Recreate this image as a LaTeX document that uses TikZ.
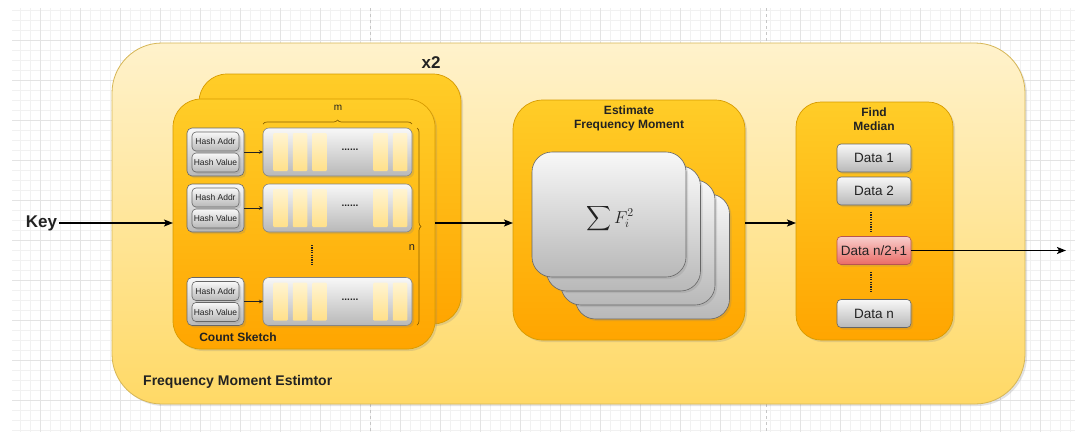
\documentclass[tikz,border=0pt]{standalone}
\usepackage{amsmath}
\usepackage[no-math]{fontspec}
\setmainfont{Liberation Sans}
\usetikzlibrary{arrows.meta,shadows,decorations.pathreplacing}
\definecolor{outerTop}{HTML}{FFF2CC}
\definecolor{outerBot}{HTML}{FFD966}
\definecolor{outerLine}{HTML}{D6B656}
\definecolor{panTop}{HTML}{FFCD28}
\definecolor{panBot}{HTML}{FFA500}
\definecolor{panLine}{HTML}{D79B00}
\definecolor{gTop}{HTML}{F8F8F8}
\definecolor{gBot}{HTML}{B8B8B8}
\definecolor{gLine}{HTML}{666666}
\definecolor{rTop}{HTML}{F8CECC}
\definecolor{rBot}{HTML}{EA6B66}
\definecolor{rLine}{HTML}{B85450}
\definecolor{cellTop}{HTML}{FFF4D2}
\definecolor{cellBot}{HTML}{FFE08A}
\definecolor{txt}{HTML}{222222}
\definecolor{braceCol}{HTML}{8C6200}
\definecolor{gridMinor}{HTML}{F1F1F1}
\definecolor{gridMajor}{HTML}{E3E3E3}
\tikzset{
  softshadow/.style={drop shadow={opacity=0.22, shadow xshift=2pt, shadow yshift=-2pt}},
  outerbox/.style={draw=outerLine, line width=0.8pt, top color=outerTop, bottom color=outerBot,
    rounded corners=50pt, inner sep=0pt, outer sep=0pt, softshadow},
  panel/.style={draw=panLine, line width=0.7pt, top color=panTop, bottom color=panBot,
    rounded corners=28pt, inner sep=0pt, outer sep=0pt, softshadow},
  greybox/.style={draw=gLine, line width=0.6pt, top color=gTop, bottom color=gBot,
    rounded corners=4pt, inner sep=0pt, outer sep=0pt, text=txt, softshadow},
  hashtxt/.style={greybox, minimum width=47pt, minimum height=19pt, font=\fontsize{8.5}{9}\selectfont},
  hashgrp/.style={greybox, minimum width=57pt, minimum height=48pt, rounded corners=5pt},
  rowbox/.style={greybox, draw=gLine!80, minimum width=149pt, minimum height=48pt, rounded corners=6pt},
  cellbox/.style={top color=cellTop, bottom color=cellBot, rounded corners=1pt,
    minimum width=14.5pt, minimum height=38pt, inner sep=0pt, outer sep=0pt},
  card/.style={greybox, minimum width=154pt, minimum height=125pt, rounded corners=20pt},
  databox/.style={greybox, minimum width=74pt, minimum height=28pt, rounded corners=4pt,
    font=\fontsize{13.5}{14}\selectfont},
  redbox/.style={databox, draw=rLine, top color=rTop, bottom color=rBot},
  lbl/.style={inner sep=0pt, text=txt, align=center},
  titlefont/.style={font=\fontsize{12}{14}\selectfont\bfseries},
  bigarrow/.style={line width=1.3pt, -{Stealth[length=9pt,width=7pt,inset=2pt]}},
  smallarrow/.style={line width=0.8pt, draw=txt, -{Stealth[length=4pt,width=3.5pt]}},
  vdotline/.style={line width=1.4pt, draw=txt, dash pattern=on 1.2pt off 1.2pt},
  bracestyle/.style={draw=braceCol, line width=0.7pt, decorate, decoration={brace, amplitude=4pt}},
}
\begin{document}
\begin{tikzpicture}[x=1pt,y=-1pt]
\useasboundingbox (0,0) rectangle (1075,432);
\fill[white] (0,0) rectangle (1075,432);
% background grid
\draw[gridMinor, line width=0.4pt] (12,8) grid[step=10pt] (1075,432);
\draw[gridMajor, line width=0.5pt] (12,8) grid[step=40pt] (1075,432);
\draw[gray!45, dashed, line width=0.5pt] (370,8) -- (370,432);
\draw[gray!45, dashed, line width=0.5pt] (766,8) -- (766,432);

% outer container
\node[outerbox, minimum width=913pt, minimum height=361pt] (outer) at (568.5,223.5) {};
\node[lbl, anchor=west, font=\fontsize{14}{16}\selectfont\bfseries] (outerlbl) at (143,382) {Frequency Moment Estimtor};

% count sketch (x2)
\node[panel, minimum width=262pt, minimum height=250pt] (csback) at (330,199) {};
\node[lbl, font=\fontsize{17}{17}\selectfont\bfseries] (x2) at (431,63) {x2};
\node[panel, minimum width=262pt, minimum height=250pt] (cs) at (304,224) {};
\node[lbl, titlefont] (cslbl) at (238,337) {Count Sketch};

\foreach \i/\y in {1/152, 2/208, 3/301.5}{
  \node[hashgrp] (h\i) at (215.5,\y) {};
  \node[hashtxt] (ha\i) at (215.5,\y-10.5) {Hash Addr};
  \node[hashtxt] (hv\i) at (215.5,\y+10.5) {Hash Value};
  \node[rowbox] (r\i) at (337.5,\y) {};
  \foreach \j/\cx in {1/280.5, 2/300, 3/319.5, 4/380.5, 5/400}{
    \node[cellbox] (c\i\j) at (\cx,\y) {};
  }
  \node[lbl, font=\fontsize{10}{10}\selectfont\bfseries] (rd\i) at (350,\y-2) {......};
  \draw[smallarrow] (h\i.east) -- (r\i.west);
}
\coordinate (vda) at (312,245);
\coordinate (vdb) at (312,265);
\draw[vdotline] (vda) -- (vdb);

\coordinate (mbl) at (263,124);
\coordinate (mbr) at (412,124);
\draw[bracestyle] (mbl) -- (mbr);
\node[lbl, font=\fontsize{10}{10}\selectfont] (mlbl) at (338,108) {m};
\coordinate (nbt) at (417,128);
\coordinate (nbb) at (417,325);
\draw[bracestyle] (nbt) -- (nbb);
\node[lbl, font=\fontsize{11}{11}\selectfont] (nlbl) at (412,248) {n};

% estimate frequency moment
\node[panel, rounded corners=30pt, minimum width=232pt, minimum height=240pt] (est) at (629,220) {};
\node[lbl, titlefont] (esttitle) at (629,118) {Estimate\\Frequency Moment};
\foreach \k/\cx/\cy in {4/652.5/256.5, 3/638/242.5, 2/623.5/228.5, 1/609/214.5}{
  \node[card] (card\k) at (\cx,\cy) {};
}
\node[lbl, font=\fontsize{17}{19}\selectfont] (formula) at (610,219) {$\displaystyle\sum F_i^2$};

% find median
\node[panel, rounded corners=25pt, minimum width=157pt, minimum height=238pt] (med) at (874.5,221) {};
\node[lbl, titlefont] (medtitle) at (874,119) {Find\\Median};
\node[databox] (d1) at (874,158) {Data 1};
\node[databox] (d2) at (874,191) {Data 2};
\node[redbox] (dmid) at (874,250.5) {Data n/2+1};
\node[databox] (dn) at (874,313.5) {Data n};
\coordinate (va1) at (871,212);
\coordinate (vb1) at (871,232);
\coordinate (va2) at (871,272);
\coordinate (vb2) at (871,292);
\draw[vdotline] (va1) -- (vb1);
\draw[vdotline] (va2) -- (vb2);

% connectors
\node[lbl, font=\fontsize{17}{17}\selectfont\bfseries, inner sep=2pt] (key) at (41.5,223) {Key};
\draw[bigarrow] (key.east) -- (key.east -| cs.west);
\draw[bigarrow] (cs.east |- key.east) -- (key.east -| est.west);
\draw[bigarrow] (est.east |- key.east) -- (key.east -| med.west);
\coordinate (out) at (1066,250.5);
\draw[bigarrow] (dmid.east) -- (out);
\end{tikzpicture}
\end{document}
